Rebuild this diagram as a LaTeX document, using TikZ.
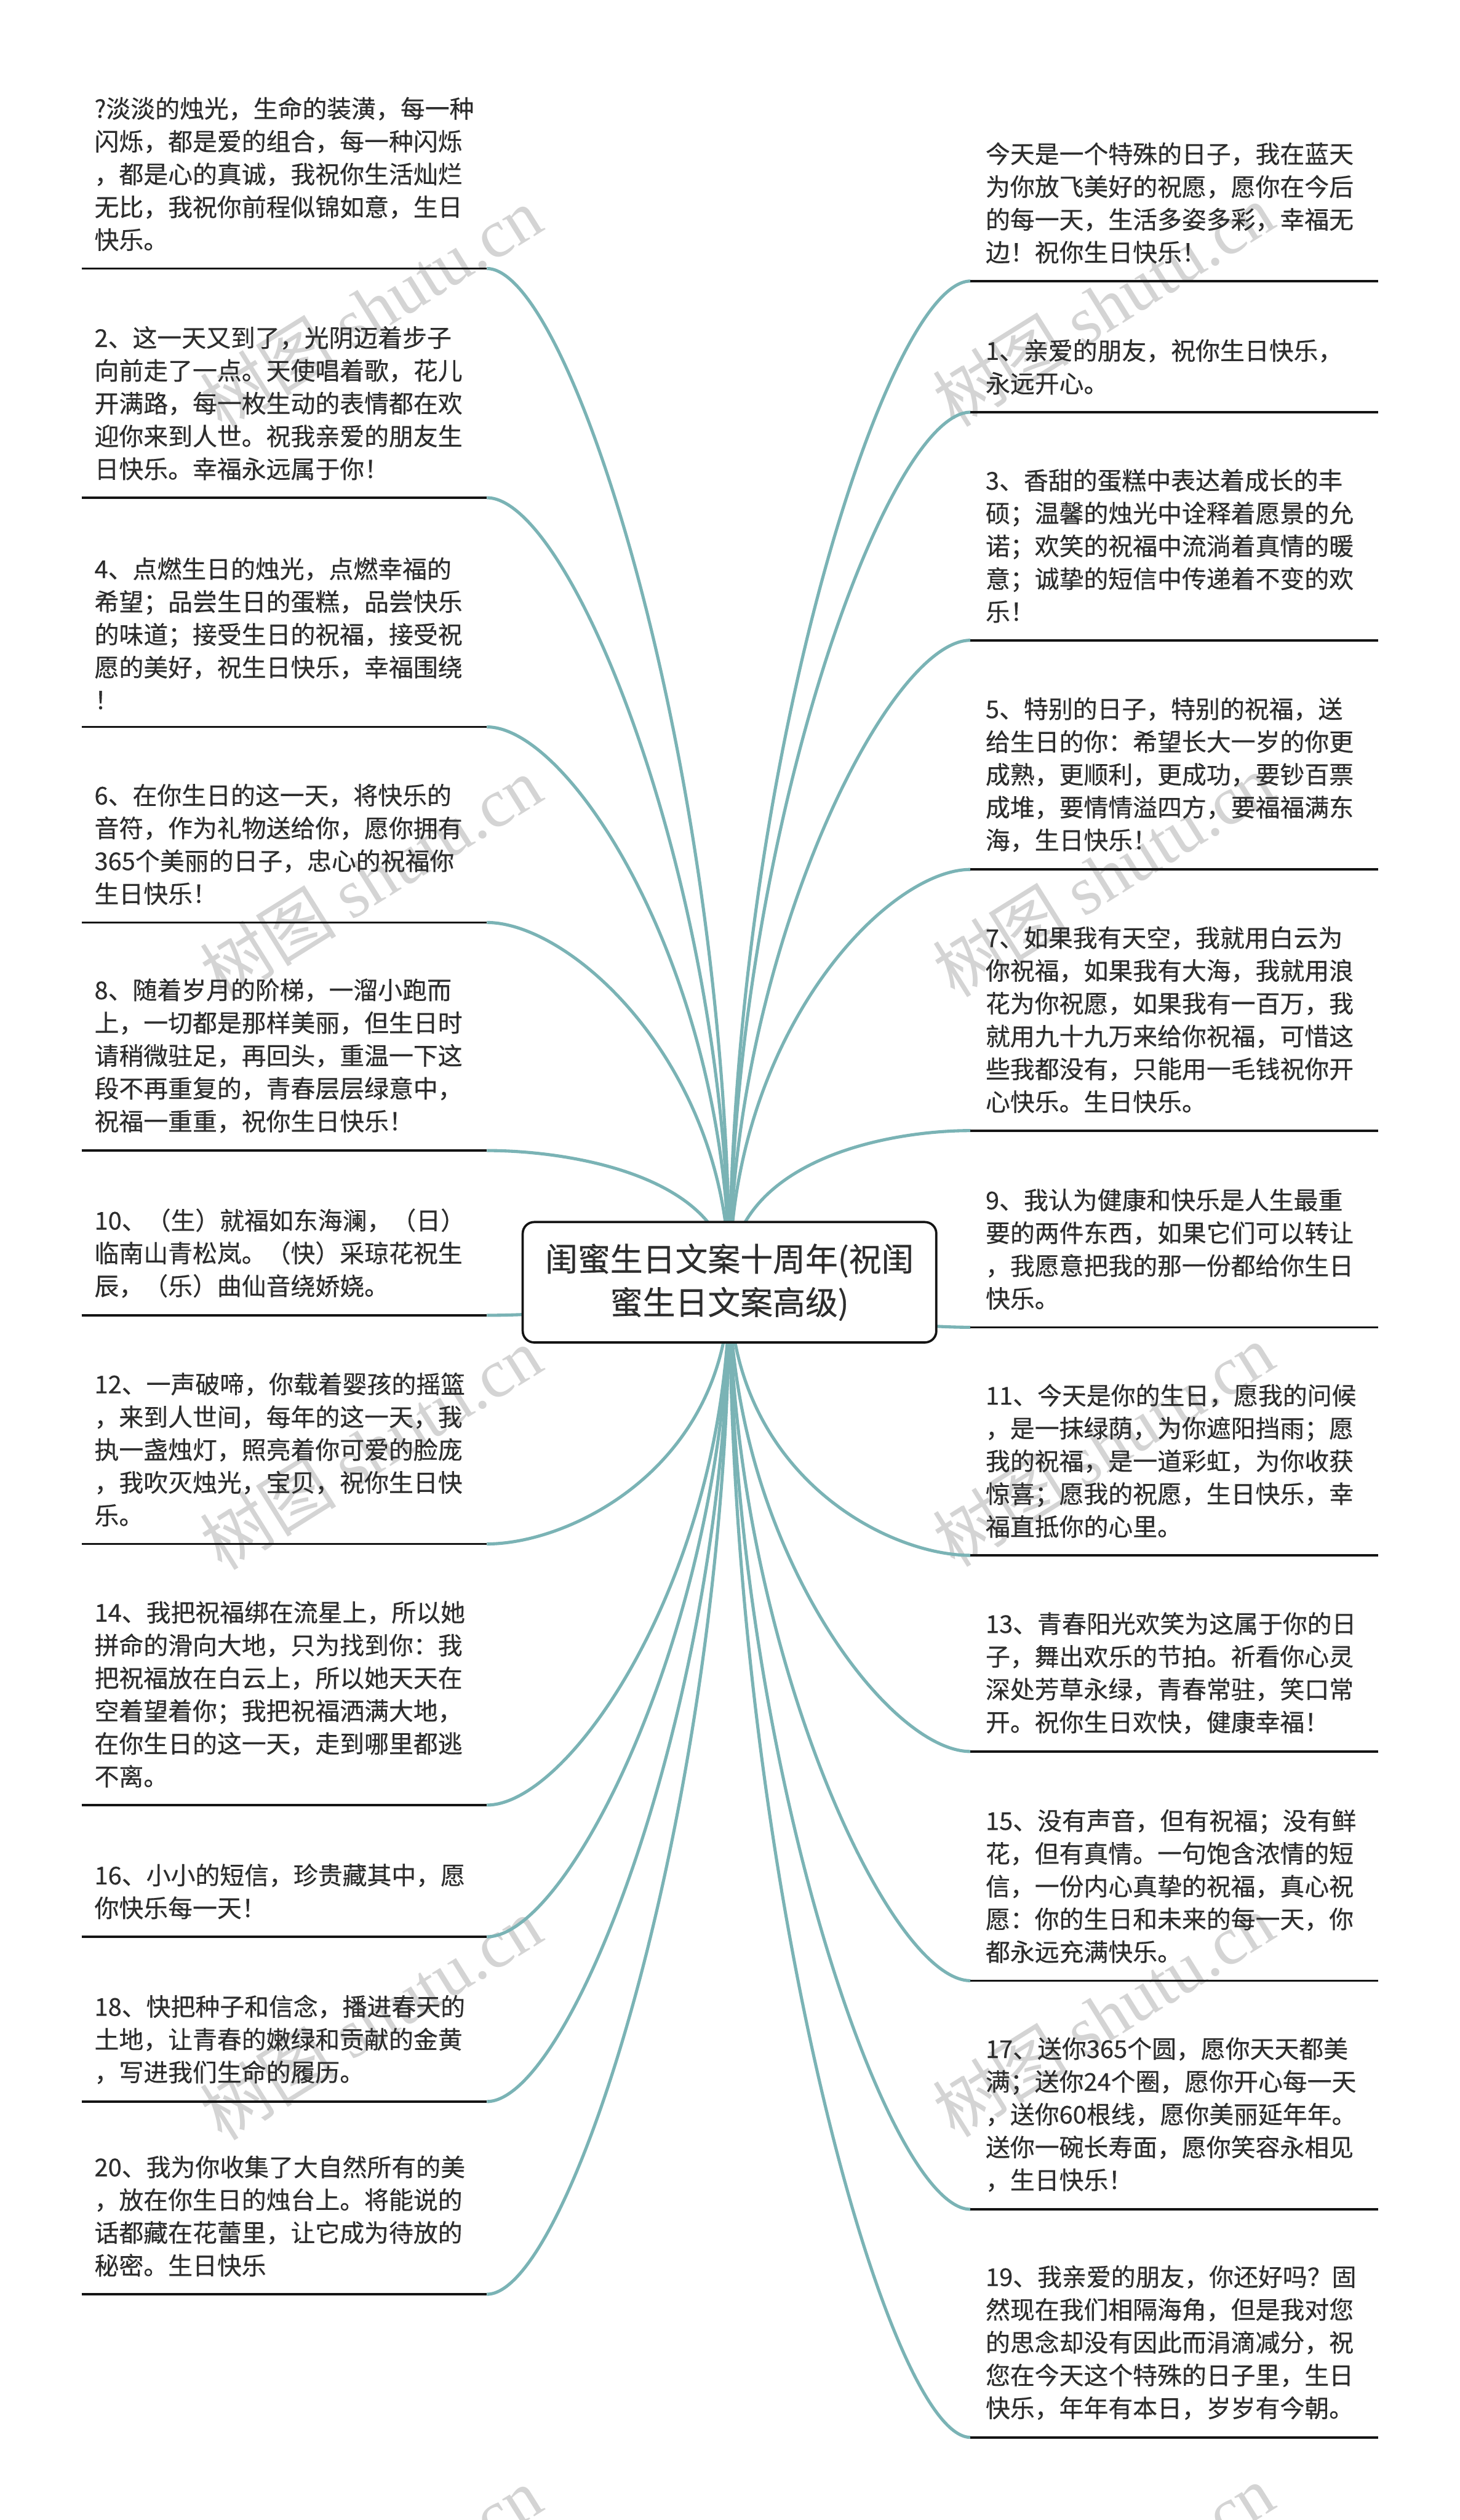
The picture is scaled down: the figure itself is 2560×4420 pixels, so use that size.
\documentclass[tikz,border=0pt]{standalone}
\usepackage{fontspec}
\setmainfont{Noto Sans CJK SC}[FakeBold=0.4]
\newfontfamily\wmcjk{Noto Sans CJK SC}
\newfontfamily\wmlat{Liberation Serif}
\usetikzlibrary{calc}
\definecolor{linkc}{RGB}{122,179,181}
\definecolor{txtc}{RGB}{45,45,45}
\definecolor{wmc}{RGB}{212,212,212}
\pgfdeclarelayer{wm}
\pgfdeclarelayer{links}
\pgfsetlayers{wm,links,main}
\begin{document}
\begin{tikzpicture}[x=0.01cm,y=-0.01cm,
  leaf/.style={anchor=south west,inner sep=0pt,align=left,text=txtc,
    font=\fontsize{0.43cm}{0.575cm}\selectfont},
  uline/.style={line width=0.04cm,draw=black!92},
  conn/.style={line width=0.055cm,draw=linkc},
  hub/.style={draw=black!92,line width=0.04cm,fill=white,rounded corners=0.2cm,
    minimum width=7.25cm,minimum height=2.11cm,align=center,text=txtc,
    font=\fontsize{0.57cm}{0.76cm}\selectfont},
  wmark/.style={text=wmc,rotate=32,inner sep=0pt,font=\fontsize{1.2cm}{1.3cm}\selectfont}]
\useasboundingbox (0,0) rectangle (2560,4420);
\begin{pgfonlayer}{wm}
\fill[white] (0,0) rectangle (2560,4420);
\foreach \k in {0,1,2,3,4}{
  \node[wmark] (WL\k) at (650,540+1000*\k) {{\wmcjk 树图} {\wmlat shutu.cn}};
  \node[wmark] (WR\k) at (1935,535+1000*\k) {{\wmcjk 树图} {\wmlat shutu.cn}};
}
\end{pgfonlayer}

\node[hub] (C) at (1279.5,2249) {闺蜜生日文案十周年(祝闺\\蜜生日文案高级)};

% ---------- left leaves ----------
\coordinate (L0a) at (143,471);  \coordinate (L0b) at (854,471);
\node[leaf] (L0) at (165,441) {?淡淡的烛光，生命的装潢，每一种\\闪烁，都是爱的组合，每一种闪烁\\，都是心的真诚，我祝你生活灿烂\\无比，我祝你前程似锦如意，生日\\快乐。};
\coordinate (L2a) at (143,873);  \coordinate (L2b) at (854,873);
\node[leaf] (L2) at (165,843) {2、这一天又到了，光阴迈着步子\\向前走了一点。天使唱着歌，花儿\\开满路，每一枚生动的表情都在欢\\迎你来到人世。祝我亲爱的朋友生\\日快乐。幸福永远属于你！};
\coordinate (L4a) at (143,1275);  \coordinate (L4b) at (854,1275);
\node[leaf] (L4) at (165,1245) {4、点燃生日的烛光，点燃幸福的\\希望；品尝生日的蛋糕，品尝快乐\\的味道；接受生日的祝福，接受祝\\愿的美好，祝生日快乐，幸福围绕\\！};
\coordinate (L6a) at (143,1618);  \coordinate (L6b) at (854,1618);
\node[leaf] (L6) at (165,1588) {6、在你生日的这一天，将快乐的\\音符，作为礼物送给你，愿你拥有\\365个美丽的日子，忠心的祝福你\\生日快乐！};
\coordinate (L8a) at (143,2018);  \coordinate (L8b) at (854,2018);
\node[leaf] (L8) at (165,1988) {8、随着岁月的阶梯，一溜小跑而\\上，一切都是那样美丽，但生日时\\请稍微驻足，再回头，重温一下这\\段不再重复的，青春层层绿意中，\\祝福一重重，祝你生日快乐！};
\coordinate (L10a) at (143,2307);  \coordinate (L10b) at (854,2307);
\node[leaf] (L10) at (165,2277) {10、（生）就福如东海澜，（日）\\临南山青松岚。（快）采琼花祝生\\辰，（乐）曲仙音绕娇娆。};
\coordinate (L12a) at (143,2708);  \coordinate (L12b) at (854,2708);
\node[leaf] (L12) at (165,2678) {12、一声破啼，你载着婴孩的摇篮\\，来到人世间，每年的这一天，我\\执一盏烛灯，照亮着你可爱的脸庞\\，我吹灭烛光，宝贝，祝你生日快\\乐。};
\coordinate (L14a) at (143,3166);  \coordinate (L14b) at (854,3166);
\node[leaf] (L14) at (165,3136) {14、我把祝福绑在流星上，所以她\\拼命的滑向大地，只为找到你：我\\把祝福放在白云上，所以她天天在\\空着望着你；我把祝福洒满大地，\\在你生日的这一天，走到哪里都逃\\不离。};
\coordinate (L16a) at (143,3397);  \coordinate (L16b) at (854,3397);
\node[leaf] (L16) at (165,3367) {16、小小的短信，珍贵藏其中，愿\\你快乐每一天！};
\coordinate (L18a) at (143,3686);  \coordinate (L18b) at (854,3686);
\node[leaf] (L18) at (165,3656) {18、快把种子和信念，播进春天的\\土地，让青春的嫩绿和贡献的金黄\\，写进我们生命的履历。};
\coordinate (L20a) at (143,4024);  \coordinate (L20b) at (854,4024);
\node[leaf] (L20) at (165,3994) {20、我为你收集了大自然所有的美\\，放在你生日的烛台上。将能说的\\话都藏在花蕾里，让它成为待放的\\秘密。生日快乐};

% ---------- right leaves ----------
\coordinate (R0a) at (1702,493);  \coordinate (R0b) at (2417,493);
\node[leaf] (R0) at (1728,463) {今天是一个特殊的日子，我在蓝天\\为你放飞美好的祝愿，愿你在今后\\的每一天，生活多姿多彩，幸福无\\边！祝你生日快乐！};
\coordinate (R1a) at (1702,723);  \coordinate (R1b) at (2417,723);
\node[leaf] (R1) at (1728,693) {1、亲爱的朋友，祝你生日快乐，\\永远开心。};
\coordinate (R3a) at (1702,1123);  \coordinate (R3b) at (2417,1123);
\node[leaf] (R3) at (1728,1093) {3、香甜的蛋糕中表达着成长的丰\\硕；温馨的烛光中诠释着愿景的允\\诺；欢笑的祝福中流淌着真情的暖\\意；诚挚的短信中传递着不变的欢\\乐！};
\coordinate (R5a) at (1702,1525);  \coordinate (R5b) at (2417,1525);
\node[leaf] (R5) at (1728,1495) {5、特别的日子，特别的祝福，送\\给生日的你：希望长大一岁的你更\\成熟，更顺利，更成功，要钞百票\\成堆，要情情溢四方，要福福满东\\海，生日快乐！};
\coordinate (R7a) at (1702,1983);  \coordinate (R7b) at (2417,1983);
\node[leaf] (R7) at (1728,1953) {7、如果我有天空，我就用白云为\\你祝福，如果我有大海，我就用浪\\花为你祝愿，如果我有一百万，我\\就用九十九万来给你祝福，可惜这\\些我都没有，只能用一毛钱祝你开\\心快乐。生日快乐。};
\coordinate (R9a) at (1702,2328);  \coordinate (R9b) at (2417,2328);
\node[leaf] (R9) at (1728,2298) {9、我认为健康和快乐是人生最重\\要的两件东西，如果它们可以转让\\，我愿意把我的那一份都给你生日\\快乐。};
\coordinate (R11a) at (1702,2728);  \coordinate (R11b) at (2417,2728);
\node[leaf] (R11) at (1728,2698) {11、今天是你的生日，愿我的问候\\，是一抹绿荫，为你遮阳挡雨；愿\\我的祝福，是一道彩虹，为你收获\\惊喜；愿我的祝愿，生日快乐，幸\\福直抵你的心里。};
\coordinate (R13a) at (1702,3072);  \coordinate (R13b) at (2417,3072);
\node[leaf] (R13) at (1728,3042) {13、青春阳光欢笑为这属于你的日\\子，舞出欢乐的节拍。祈看你心灵\\深处芳草永绿，青春常驻，笑口常\\开。祝你生日欢快，健康幸福！};
\coordinate (R15a) at (1702,3474);  \coordinate (R15b) at (2417,3474);
\node[leaf] (R15) at (1728,3444) {15、没有声音，但有祝福；没有鲜\\花，但有真情。一句饱含浓情的短\\信，一份内心真挚的祝福，真心祝\\愿：你的生日和未来的每一天，你\\都永远充满快乐。};
\coordinate (R17a) at (1702,3875);  \coordinate (R17b) at (2417,3875);
\node[leaf] (R17) at (1728,3845) {17、送你365个圆，愿你天天都美\\满；送你24个圈，愿你开心每一天\\，送你60根线，愿你美丽延年年。\\送你一碗长寿面，愿你笑容永相见\\，生日快乐！};
\coordinate (R19a) at (1702,4275);  \coordinate (R19b) at (2417,4275);
\node[leaf] (R19) at (1728,4245) {19、我亲爱的朋友，你还好吗？固\\然现在我们相隔海角，但是我对您\\的思念却没有因此而涓滴减分，祝\\您在今天这个特殊的日子里，生日\\快乐，年年有本日，岁岁有今朝。};

% underlines
\foreach \n in {L0,L2,L4,L6,L8,L10,L12,L14,L16,L18,L20,R0,R1,R3,R5,R7,R9,R11,R13,R15,R17,R19}
  \draw[uline] (\n a) -- (\n b);

% connectors (behind the central box)
\begin{pgfonlayer}{links}
\foreach \p/\b in {L0b/0.5,L2b/0.5,L4b/0.55,L6b/0.6,L8b/0.8,L10b/0.5,L12b/0.7,L14b/0.55,L16b/0.5,L18b/0.5,L20b/0.5,
                   R0a/0.5,R1a/0.5,R3a/0.5,R5a/0.6,R7a/0.8,R9a/0.5,R11a/0.7,R13a/0.55,R15a/0.5,R17a/0.5,R19a/0.5}
  \draw[conn] (\p) .. controls ($(\p)!0.35!(\p -| C.center)$) and ($(C.center)!\b!(\p -| C.center)$) .. (C.center);
\end{pgfonlayer}
\end{tikzpicture}
\end{document}
